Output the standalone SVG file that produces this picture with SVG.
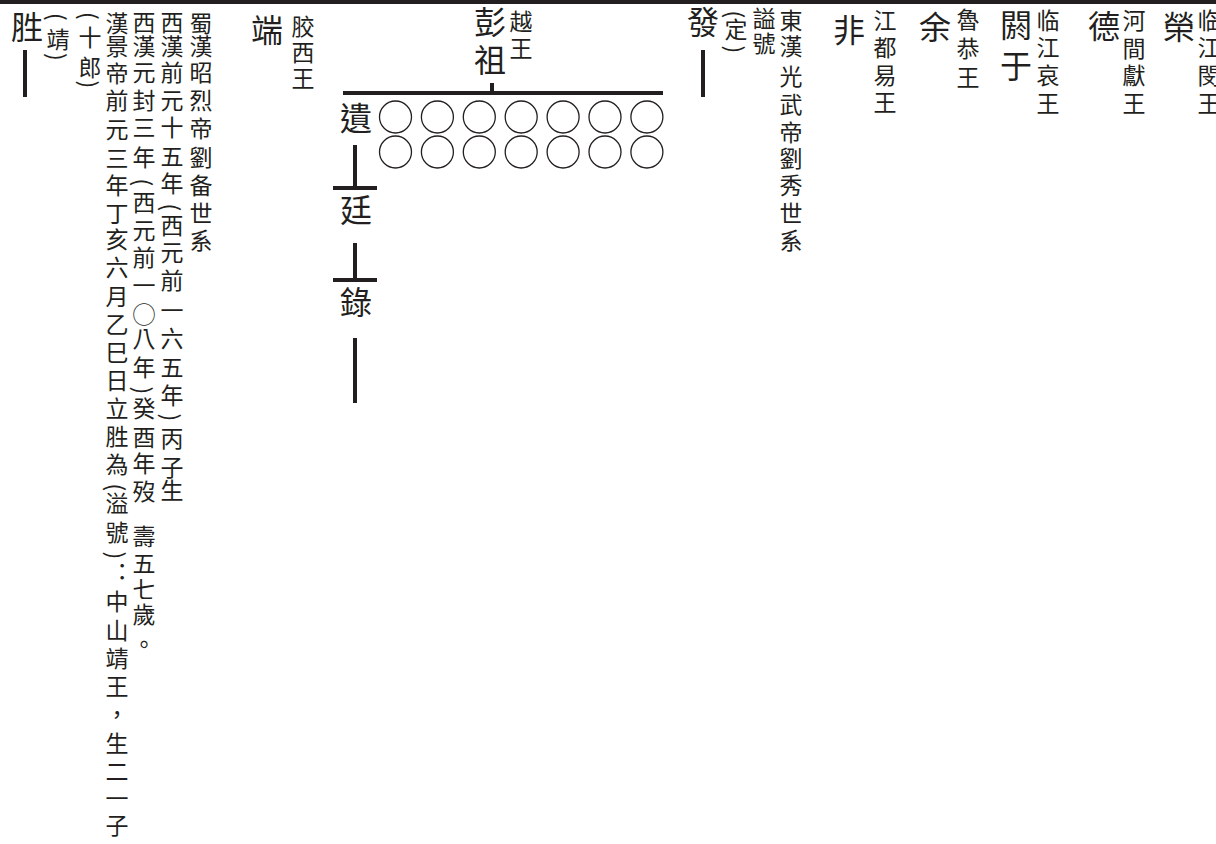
<svg xmlns="http://www.w3.org/2000/svg" width="1216" height="844" viewBox="0 0 1216 844">
<style>
text{font-family:"Noto Sans CJK TC","Noto Sans CJK SC",sans-serif;fill:#231f20;writing-mode:vertical-rl}
.s{font-size:23px}
.b{font-size:32px}
.nv{font-feature-settings:"vert" 0,"vrt2" 0}
.ln{stroke:#231f20;stroke-width:4;fill:none}
.c{stroke:#231f20;stroke-width:1.3;fill:none}
</style>
<rect x="0" y="0" width="1216" height="4" fill="#231f20"/>
<g id="node-sheng">
<text class="b" x="27" y="11">胜</text>
<text class="s" x="58" y="13 27.5 53">(靖)</text>
<text class="s" x="90" y="12 26 56 80.5">(十郎)</text>
<text class="s" x="117" y="11.5 34.5 61.5 88.5 117.5 146.5 173.5 201.5 227.5 255.5 284.5 312.5 340.5 368.5 396.5 424.5 452.5 483.5 491.5 520.5 551.5 561.5 589.5 618.5 646.5 674.5 702.5 731.5 759.5 786.5 813.5">漢景帝前元三年丁亥六月乙巳日立胜為(溢號)<tspan class="nv">：</tspan>中山靖王，生二一子</text>
<text class="s" x="144" y="10.5 34.5 60.5 88.5 115.5 145.5 178.5 190.5 218.5 245.5 273.5 302.5 326.5 355.5 386.5 396.5 425.5 451.5 479.5 505 524.5 551.5 577.5 602.5 632.5">西漢元封三年(西元前一◯八年)癸酉年歿 壽五七歲。</text>
<text class="s" x="172" y="10.5 34.5 60.5 88.5 115.5 144.5 171.5 203.5 213.5 240.5 268.5 298.5 326.5 355.5 383.5 413.5 426.5 455.5 478.5">西漢前元十五年(西元前一六五年)丙子生</text>
<text class="s" x="201" y="11.5 34.5 60.5 88.5 116.5 145.5 173.5 201.5 228.5">蜀漢昭烈帝劉备世系</text>
</g>
<g id="node-duan">
<text class="b" x="267" y="14">端</text>
<text class="s" x="303" y="14.5 40.5 66.5">胶西王</text>
</g>
<g id="node-pengzu">
<text class="b" x="490" y="6 44">彭祖</text>
<text class="s" x="521" y="9.5 37">越王</text>
</g>
<g id="node-yi">
<text class="b" x="356" y="102">遺</text>
<circle class="c" cx="395.5" cy="117" r="16"/><circle class="c" cx="437.4" cy="117" r="16"/><circle class="c" cx="479.3" cy="117" r="16"/><circle class="c" cx="521.2" cy="117" r="16"/><circle class="c" cx="563.1" cy="117" r="16"/><circle class="c" cx="605" cy="117" r="16"/><circle class="c" cx="646.9" cy="117" r="16"/>
<circle class="c" cx="395.5" cy="152" r="16"/><circle class="c" cx="437.4" cy="152" r="16"/><circle class="c" cx="479.3" cy="152" r="16"/><circle class="c" cx="521.2" cy="152" r="16"/><circle class="c" cx="563.1" cy="152" r="16"/><circle class="c" cx="605" cy="152" r="16"/><circle class="c" cx="646.9" cy="152" r="16"/>
</g>
<g id="node-ting"><text class="b" x="356" y="194">廷</text></g>
<g id="node-lu"><text class="b" x="356" y="286">錄</text></g>
<g id="node-fa">
<text class="b" x="703" y="6">發</text>
<text class="s" x="736" y="10.5 17.5 45.5">(定)</text>
<text class="s" x="764" y="6.5 31.5">謚號</text>
<text class="s" x="791" y="8.5 34.5 64.5 92.5 120.5 146.5 173.5 201.5 228.5">東漢光武帝劉秀世系</text>
</g>
<g id="node-fei">
<text class="b" x="849" y="14">非</text>
<text class="s" x="885" y="8.5 36 63.5 91">江都易王</text>
</g>
<g id="node-yu">
<text class="b" x="935" y="11">余</text>
<text class="s" x="968" y="7.5 36.5 65.5">魯恭王</text>
</g>
<g id="node-eyu">
<text class="b" x="1016" y="9 50">閼于</text>
<text class="s" x="1048" y="8.5 35.5 63.5 91.5">临江哀王</text>
</g>
<g id="node-de">
<text class="b" x="1104" y="10">德</text>
<text class="s" x="1134" y="8.5 36.5 63.5 91.5">河間獻王</text>
</g>
<g id="node-rong">
<text class="b" x="1179" y="11">榮</text>
<text class="s" x="1209" y="8.5 35.5 63.5 91.5">临江閔王</text>
</g>
<g id="connectors">
<line class="ln" x1="25" y1="50" x2="25" y2="97"/>
<line class="ln" x1="703" y1="50" x2="703" y2="97"/>
<line class="ln" x1="492" y1="83" x2="492" y2="93"/>
<line class="ln" x1="343" y1="93" x2="663" y2="93"/>
<line class="ln" x1="355" y1="145" x2="355" y2="188"/>
<line class="ln" x1="333" y1="188" x2="377" y2="188"/>
<line class="ln" x1="355" y1="243" x2="355" y2="280"/>
<line class="ln" x1="333" y1="280" x2="377" y2="280"/>
<line class="ln" x1="355" y1="338" x2="355" y2="403"/>
</g>
</svg>
